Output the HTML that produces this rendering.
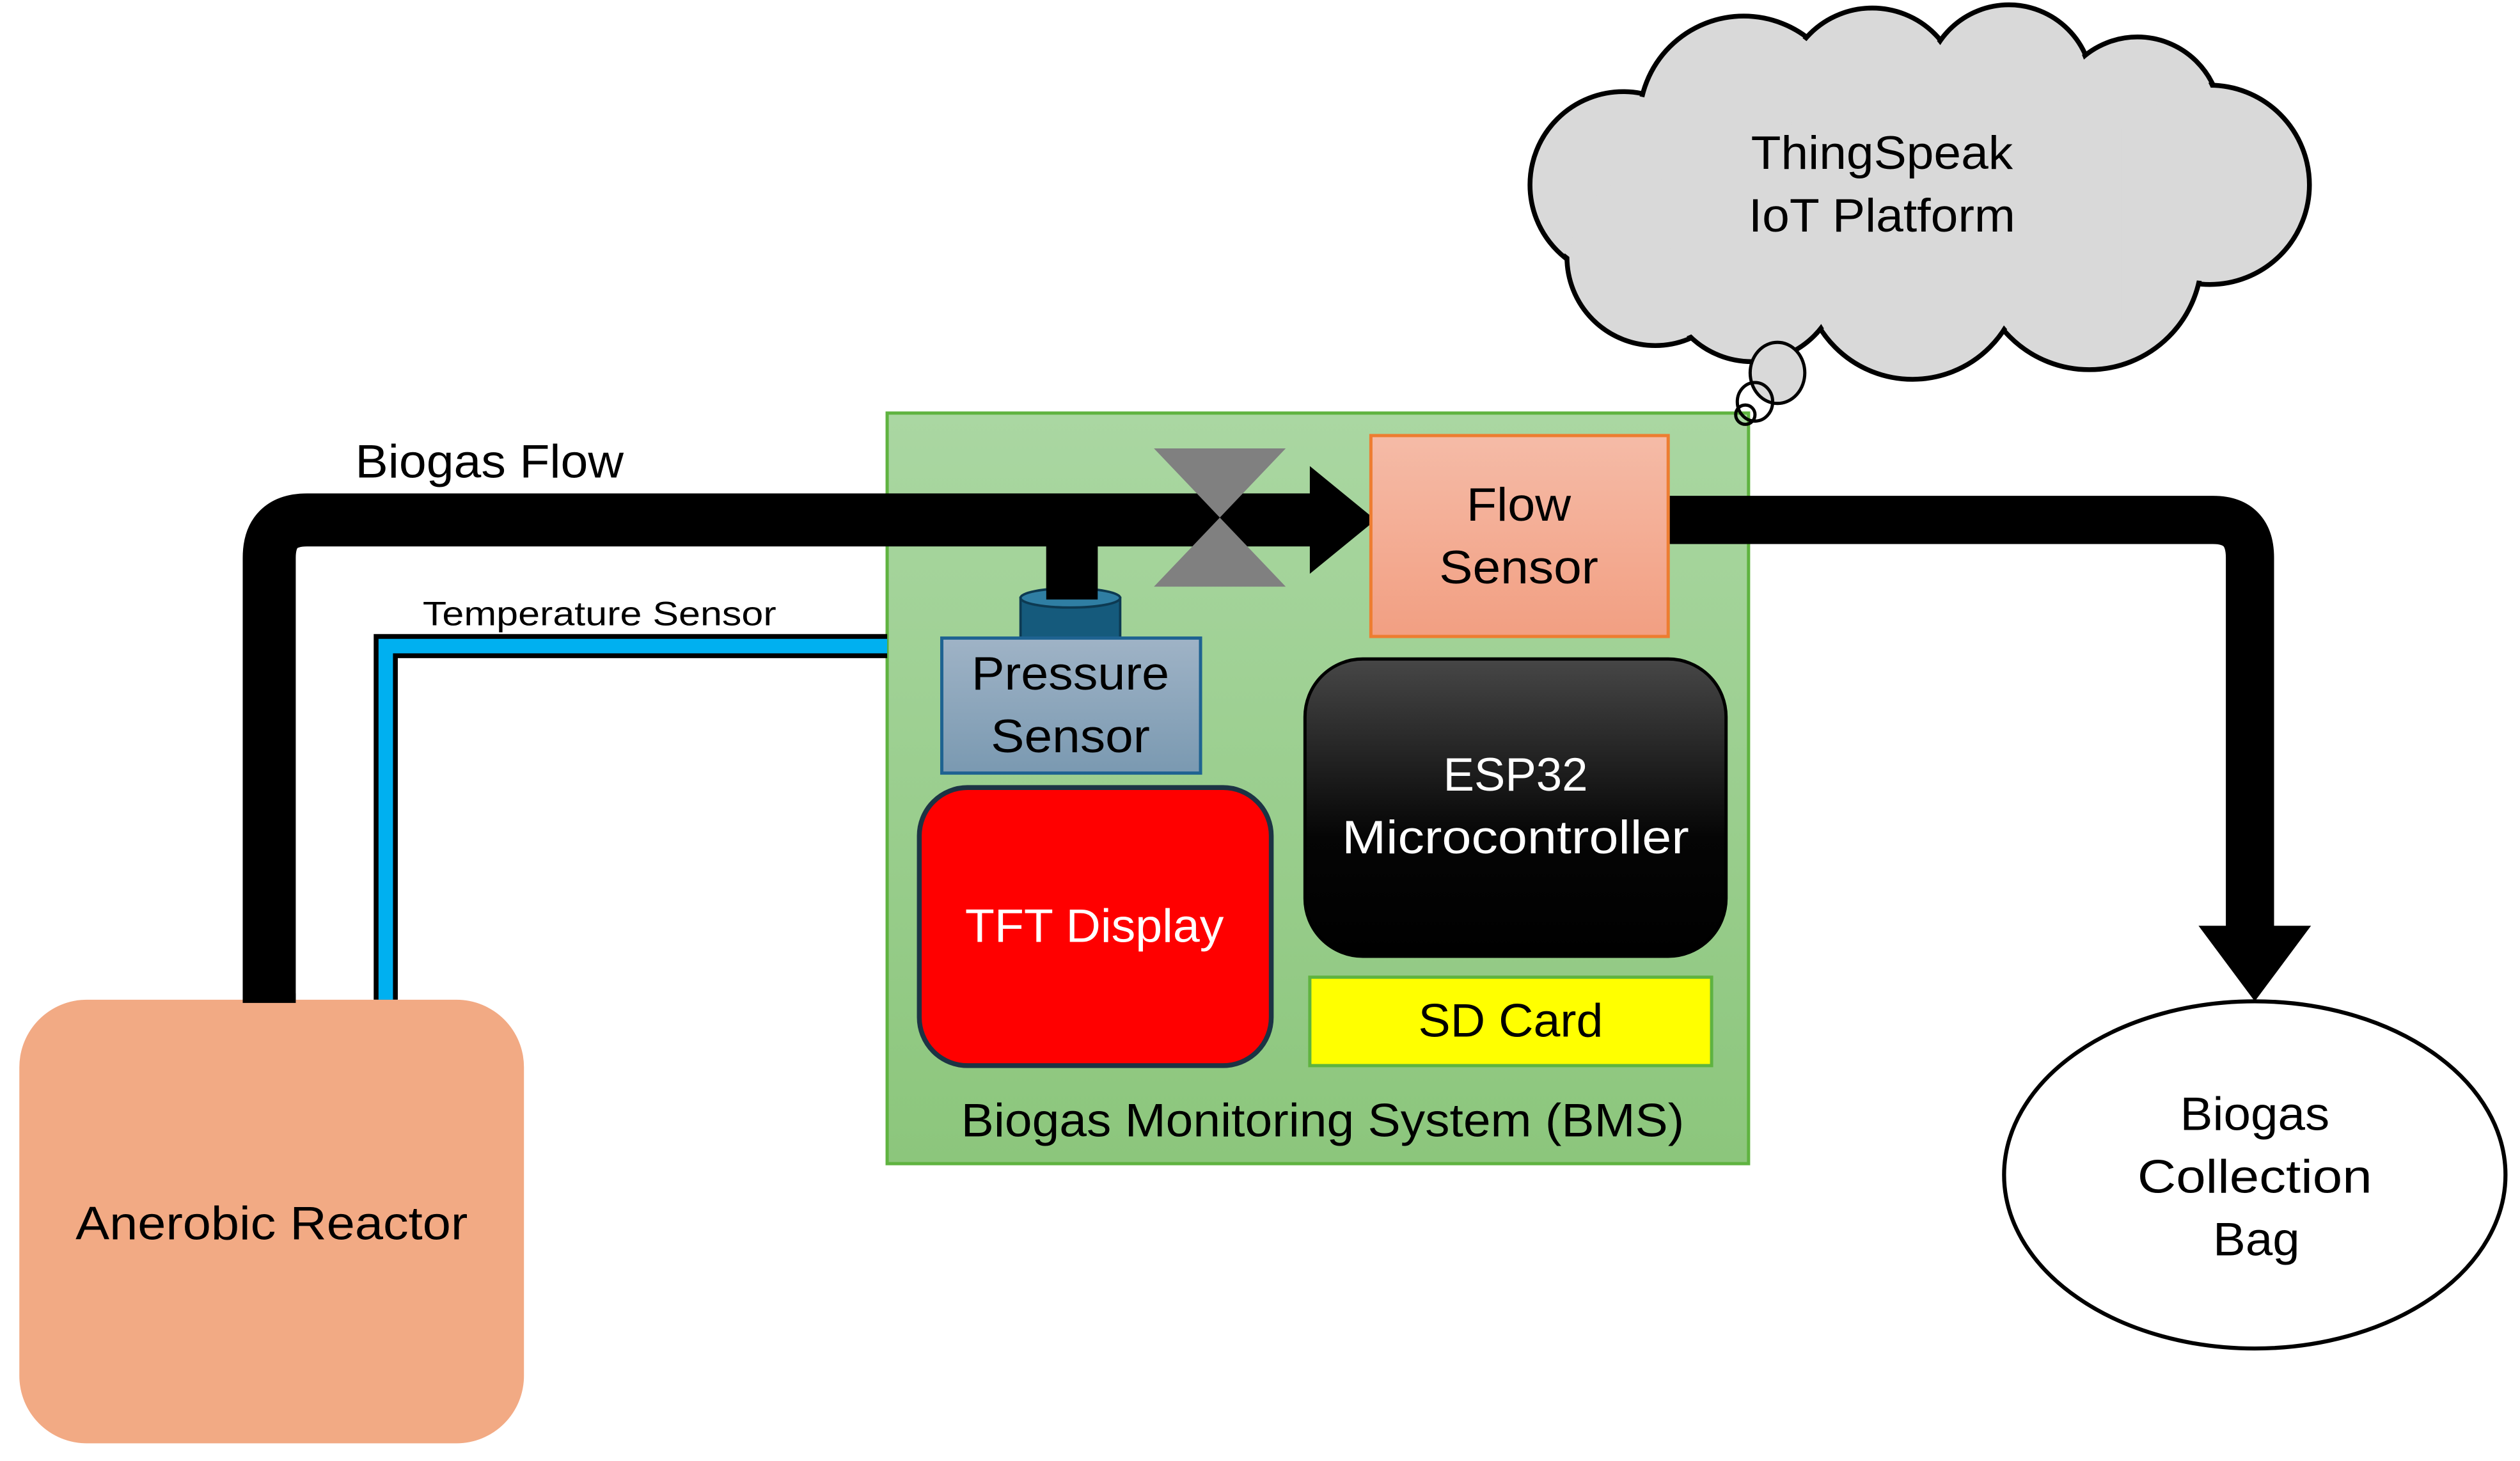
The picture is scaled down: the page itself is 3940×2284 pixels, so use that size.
<!DOCTYPE html>
<html><head><meta charset="utf-8"><style>
html,body{margin:0;padding:0;background:#fff}
svg{display:block}
text{font-family:"Liberation Sans",sans-serif;font-size:29px}
</style></head><body>
<svg width="3940" height="2284" viewBox="0 0 1568 909" xmlns="http://www.w3.org/2000/svg">
<defs>
<linearGradient id="gG" x1="0" y1="0" x2="0" y2="1"><stop offset="0" stop-color="#aad7a2"/><stop offset="1" stop-color="#8cc67c"/></linearGradient>
<linearGradient id="gP" x1="0" y1="0" x2="0" y2="1"><stop offset="0" stop-color="#9fb3c6"/><stop offset="1" stop-color="#7a99b1"/></linearGradient>
<linearGradient id="gF" x1="0" y1="0" x2="0" y2="1"><stop offset="0" stop-color="#f5bba7"/><stop offset="1" stop-color="#f29f82"/></linearGradient>
<linearGradient id="gE" x1="0" y1="0" x2="0" y2="1"><stop offset="0" stop-color="#474747"/><stop offset="0.6" stop-color="#050505"/><stop offset="1" stop-color="#000"/></linearGradient>
</defs>

<!-- cloud -->
<g stroke="#000" stroke-width="3" fill="#d9d9d9">
<circle cx="1010" cy="115" r="58"/>
<circle cx="1030" cy="160" r="55"/>
<circle cx="1085" cy="75" r="65"/>
<circle cx="1165" cy="60" r="55"/>
<circle cx="1250" cy="55" r="52"/>
<circle cx="1330" cy="75" r="52"/>
<circle cx="1375" cy="115" r="62"/>
<circle cx="1300" cy="160" r="70"/>
<circle cx="1190" cy="168" r="68"/>
<circle cx="1090" cy="170" r="55"/>
</g>
<g fill="#d9d9d9">
<circle cx="1010" cy="115" r="56"/>
<circle cx="1030" cy="160" r="53"/>
<circle cx="1085" cy="75" r="63"/>
<circle cx="1165" cy="60" r="53"/>
<circle cx="1250" cy="55" r="50"/>
<circle cx="1330" cy="75" r="50"/>
<circle cx="1375" cy="115" r="60"/>
<circle cx="1300" cy="160" r="68"/>
<circle cx="1190" cy="168" r="66"/>
<circle cx="1090" cy="170" r="53"/>
<rect x="1040" y="80" width="280" height="120"/>
</g>
<text x="1171" y="105" text-anchor="middle" textLength="163" lengthAdjust="spacingAndGlyphs">ThingSpeak</text>
<text x="1171" y="144" text-anchor="middle" textLength="166" lengthAdjust="spacingAndGlyphs">IoT Platform</text>

<!-- green box -->
<rect x="552" y="257" width="536" height="467" fill="url(#gG)" stroke="#5fb340" stroke-width="2"/>

<!-- thought bubbles -->
<g stroke="#000" stroke-width="2" fill="#d9d9d9">
<ellipse cx="1106" cy="232" rx="17" ry="19"/>
<ellipse cx="1092" cy="250" rx="11" ry="12" fill="none"/>
<ellipse cx="1086" cy="258" rx="6" ry="6" fill="none"/>
</g>

<!-- temperature sensor line -->
<path d="M240 622 V402 H552" fill="none" stroke="#000" stroke-width="15"/>
<path d="M240 622 V402 H552" fill="none" stroke="#00b0f0" stroke-width="9"/>
<text x="263" y="389" font-size="21" style="font-size:21px" textLength="220" lengthAdjust="spacingAndGlyphs">Temperature Sensor</text>

<!-- main pipe -->
<path d="M167.5 624 V347 Q167.5 323.5 191 323.5 H818" fill="none" stroke="#000" stroke-width="33"/>
<polygon points="815,290 856,323.5 815,357" fill="#000"/>
<path d="M1036 323.5 H1377 Q1400 323.5 1400 347 V580" fill="none" stroke="#000" stroke-width="30"/>
<polygon points="1368,576 1438,576 1403,623" fill="#000"/>
<text x="221" y="297" textLength="167" lengthAdjust="spacingAndGlyphs">Biogas Flow</text>

<!-- valve -->
<polygon points="718,279 800,279 759,322" fill="#808080"/>
<polygon points="759,322 718,365 800,365" fill="#808080"/>

<!-- pressure stub -->
<rect x="651" y="338" width="32" height="36" fill="#000"/>
<rect x="635" y="372" width="62" height="26" fill="#155a7c" stroke="#0d3a52" stroke-width="1.5"/>
<ellipse cx="666" cy="372" rx="31" ry="6" fill="#2f7ea3" stroke="#0d3a52" stroke-width="1.5"/>
<rect x="651" y="338" width="32" height="35" fill="#000"/>

<!-- pressure sensor -->
<rect x="586" y="397" width="161" height="84" fill="url(#gP)" stroke="#1f6391" stroke-width="2"/>
<text x="666" y="429" text-anchor="middle" textLength="123" lengthAdjust="spacingAndGlyphs">Pressure</text>
<text x="666" y="468" text-anchor="middle" textLength="99" lengthAdjust="spacingAndGlyphs">Sensor</text>

<!-- flow sensor -->
<rect x="853" y="271" width="185" height="125" fill="url(#gF)" stroke="#ed7d31" stroke-width="2"/>
<text x="945" y="324" text-anchor="middle" textLength="65" lengthAdjust="spacingAndGlyphs">Flow</text>
<text x="945" y="363" text-anchor="middle" textLength="99" lengthAdjust="spacingAndGlyphs">Sensor</text>

<!-- ESP32 -->
<rect x="812" y="410" width="262" height="185" rx="36" fill="url(#gE)" stroke="#000" stroke-width="2"/>
<text x="943" y="492" text-anchor="middle" fill="#fff" textLength="90" lengthAdjust="spacingAndGlyphs">ESP32</text>
<text x="943" y="531" text-anchor="middle" fill="#fff" textLength="216" lengthAdjust="spacingAndGlyphs">Microcontroller</text>

<!-- TFT -->
<rect x="572" y="490" width="219" height="173" rx="30" fill="#ff0000" stroke="#1c3344" stroke-width="3"/>
<text x="681" y="586" text-anchor="middle" fill="#fff" textLength="161" lengthAdjust="spacingAndGlyphs">TFT Display</text>

<!-- SD card -->
<rect x="815" y="608" width="250" height="55" fill="#ffff00" stroke="#5fb340" stroke-width="2"/>
<text x="940" y="645" text-anchor="middle" textLength="115" lengthAdjust="spacingAndGlyphs">SD Card</text>

<text x="823" y="707" text-anchor="middle" textLength="450" lengthAdjust="spacingAndGlyphs">Biogas Monitoring System (BMS)</text>

<!-- reactor -->
<rect x="12" y="622" width="314" height="276" rx="42" fill="#f2aa84"/>
<rect x="151" y="618" width="33" height="6" fill="#000"/>
<text x="169" y="771" text-anchor="middle" textLength="244" lengthAdjust="spacingAndGlyphs">Anerobic Reactor</text>

<!-- bag -->
<ellipse cx="1403" cy="731" rx="156" ry="108" fill="#fff" stroke="#000" stroke-width="2.5"/>
<text x="1403" y="703" text-anchor="middle" textLength="93" lengthAdjust="spacingAndGlyphs">Biogas</text>
<text x="1403" y="742" text-anchor="middle" textLength="146" lengthAdjust="spacingAndGlyphs">Collection</text>
<text x="1404" y="781" text-anchor="middle" textLength="54" lengthAdjust="spacingAndGlyphs">Bag</text>
</svg>
</body></html>
